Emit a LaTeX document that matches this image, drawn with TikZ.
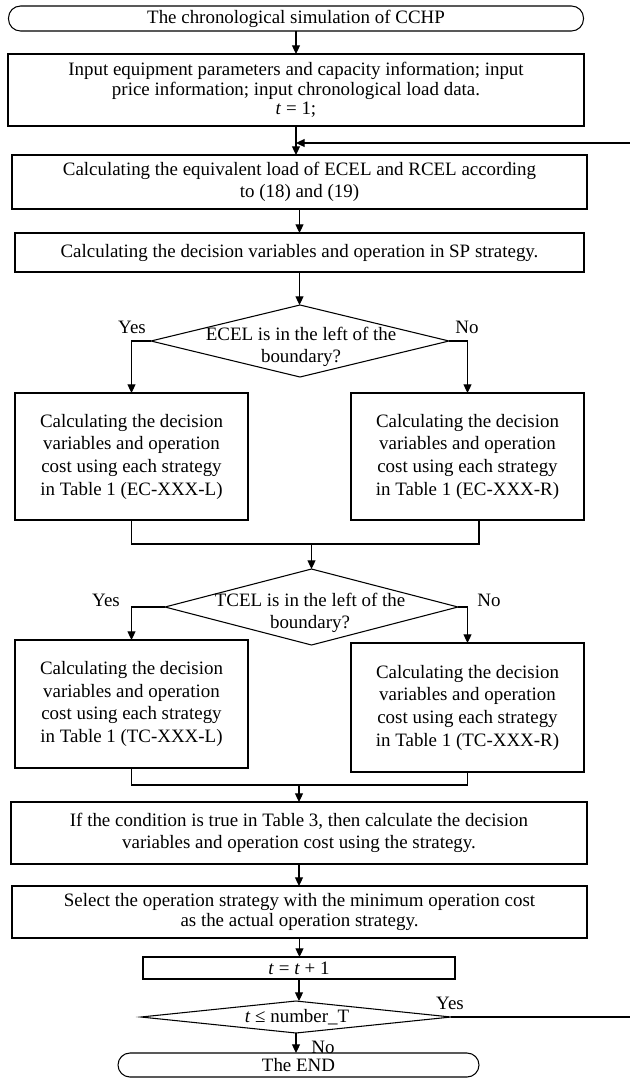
\documentclass[tikz,border=0pt]{standalone}
\usepackage{fontspec}
\setmainfont{Liberation Serif}
\usetikzlibrary{shapes.geometric,arrows.meta}
\begin{document}
\begin{tikzpicture}[x=0.75pt,y=-0.75pt,
  lw/.style={line width=0.8pt},
  sz/.style 2 args={minimum width=#1*0.75pt,minimum height=#2*0.75pt},
  box/.style={draw,lw,rectangle,inner sep=0pt,outer sep=0pt,align=center,font=\fontsize{14.2pt}{14.6pt}\selectfont},
  wbox/.style={box,font=\fontsize{14.2pt}{17pt}\selectfont},
  term/.style={box,rounded corners=9pt},
  dia/.style={draw,lw,diamond,inner sep=0pt,outer sep=0pt},
  txt/.style={inner sep=0pt,align=center,font=\fontsize{14.2pt}{17pt}\selectfont},
  arr/.style={lw,-{Triangle[length=6.5pt,width=6pt]}},
  con/.style={lw}
]
\useasboundingbox (0,0) rectangle (630,1079);

% main column
\node[term,sz={575}{25}] (t1) at (296,18.5) {The chronological simulation of CCHP};
\node[box,sz={576}{72}] (b1) at (296,90) {Input equipment parameters and capacity information; input\\price information; input chronological load data.\\\textit{t} = 1;};
\node[wbox,sz={575}{54}] (b2) at (299.5,182) {Calculating the equivalent load of ECEL and RCEL according\\to (18) and (19)};
\node[box,sz={569}{39}] (b3) at (299.5,252.5) {Calculating the decision variables and operation in SP strategy.};

% first decision
\node[dia,sz={298}{72}] (d1) at (300,341) {};
\node[txt] (d1t) at (301,347) {ECEL is in the left of the\\boundary?};
\node[txt] (y1) at (132,327) {Yes};
\node[txt] (n1) at (467,327) {No};

\node[wbox,sz={233}{127}] (ecl) at (131.5,456.5) {Calculating the decision\\variables and operation\\cost using each strategy\\in Table 1 (EC-XXX-L)};
\node[wbox,sz={233}{127}] (ecr) at (467.5,456.5) {Calculating the decision\\variables and operation\\cost using each strategy\\in Table 1 (EC-XXX-R)};

% second decision
\node[dia,sz={293}{76}] (d2) at (311.5,607) {};
\node[txt] (d2t) at (310,613) {TCEL is in the left of the\\boundary?};
\node[txt] (y2) at (106,600) {Yes};
\node[txt] (n2) at (489,600) {No};

\node[wbox,sz={233}{128}] (tcl) at (131.5,704) {Calculating the decision\\variables and operation\\cost using each strategy\\in Table 1 (TC-XXX-L)};
\node[wbox,sz={233}{129}] (tcr) at (467.5,707.5) {Calculating the decision\\variables and operation\\cost using each strategy\\in Table 1 (TC-XXX-R)};

\node[wbox,sz={576}{62}] (bif) at (299,833) {If the condition is true in Table 3, then calculate the decision\\variables and operation cost using the strategy.};
\node[box,sz={575}{52}] (bsel) at (299.5,912) {Select the operation strategy with the minimum operation cost\\as the actual operation strategy.};
\node[box,sz={312}{22}] (bt) at (299,968) {\textit{t} = \textit{t} + 1};

\node[dia,sz={310}{32}] (d3) at (296,1017) {};
\node[txt] (d3t) at (297,1017) {\textit{t} ≤ number\_T};
\node[txt] (y3) at (450,1003) {Yes};
\node[txt] (n3) at (323,1047) {No};

\node[term,sz={361}{24}] (end) at (298.5,1065) {The END};

% connectors
\draw[arr] (t1.south) -- (t1.south |- b1.north);
\draw[arr] (b1.south) -- (b1.south |- b2.north);
\draw[arr] (b2.south) -- (b2.south |- b3.north);
\draw[arr] (b3.south) -- (b3.south |- d1.north);
\draw[arr] (d1.west) -| (ecl.north);
\draw[arr] (d1.east) -| (ecr.north);

\coordinate (j1) at (311.5,544);
\draw[con] (ecl.south) |- (j1);
\draw[con] ([xshift=8.6pt]ecr.south) |- (j1);
\draw[arr] (j1) -- (d2.north);

\draw[arr] (d2.west) -| (tcl.north);
\draw[arr] (d2.east) -| (tcr.north);

\coordinate (j2) at (299,785);
\draw[con] (tcl.south) |- (j2);
\draw[con] (tcr.south) |- (j2);
\draw[arr] (j2) -- (bif.north);

\draw[arr] (bif.south) -- (bif.south |- bsel.north);
\draw[arr] (bsel.south) -- (bsel.south |- bt.north);
\draw[arr] (bt.south) -- (bt.south |- d3.north);
\draw[arr] (d3.south) -- (d3.south |- end.north);

% loop back
\coordinate (lb) at (634,1017);
\coordinate (lt) at (634,143);
\draw[arr] (d3.east) -- (lb) -- (lt) -- (b1.south |- lt);
\end{tikzpicture}
\end{document}
